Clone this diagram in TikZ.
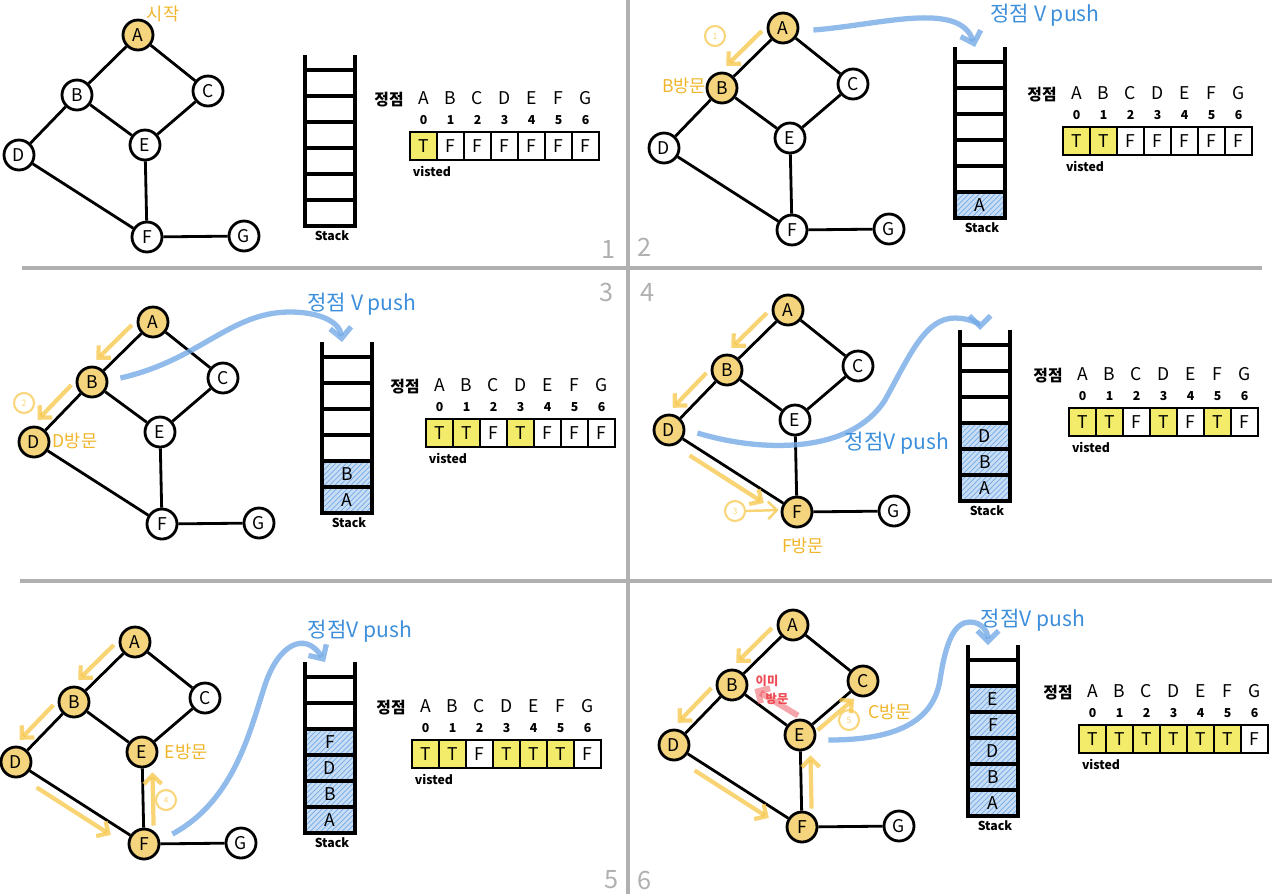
\documentclass[tikz,border=0pt]{standalone}
\usepackage{fontspec}
\setmainfont{Noto Sans CJK KR}
\usetikzlibrary{arrows.meta,positioning,calc,backgrounds,patterns}
\definecolor{nodeFill}{HTML}{F4D47C}
\definecolor{trailOrange}{HTML}{F6C545}
\definecolor{labelOrange}{HTML}{F0B52A}
\definecolor{markYellow}{HTML}{F2EC6A}
\definecolor{pushBlue}{HTML}{74AAE6}
\definecolor{textBlue}{HTML}{3D8FDB}
\definecolor{cellBlue}{HTML}{C9DEF5}
\definecolor{hitRed}{HTML}{EE4B55}
\definecolor{divGray}{HTML}{B0B0B0}
\tikzset{
  vtx/.style={circle, draw=black, line width=1.6pt, minimum size=0.6cm, inner sep=0pt},
  link/.style={line width=1.6pt},
  trail/.style={trailOrange, line width=2.4pt, opacity=.75,
                -{Straight Barb[length=5pt,width=10pt]}},
  pusharr/.style={pushBlue, line width=3pt, opacity=.8,
                  -{Straight Barb[length=6pt,width=12pt]}},
  hitarr/.style={hitRed, line width=3.4pt, opacity=.5,
                 -{Straight Barb[length=5pt,width=10pt]}},
  rail/.style={line width=2pt},
  cell/.style={draw, line width=1.6pt, minimum width=0.54cm, minimum height=0.56cm,
               inner sep=0pt},
  stackcell/.style={minimum width=1cm, minimum height=0.52cm, inner sep=0pt, fill=cellBlue,
                    postaction={pattern=north east lines, pattern color=pushBlue}},
  hdr/.style={font=\normalsize},
  idx/.style={font=\scriptsize\bfseries},
  tag/.style={font=\scriptsize\bfseries},
  note/.style={text=labelOrange, font=\normalsize},
  stepno/.style={circle, draw=trailOrange, text=trailOrange, line width=1.2pt, opacity=.7,
                 minimum size=0.4cm, inner sep=0pt, font=\tiny},
  pushtxt/.style={text=textBlue, font=\large},
  hit/.style={text=hitRed, font=\scriptsize\bfseries},
  pnum/.style={text=divGray, font=\Large},
  divider/.style={divGray, line width=2.4pt},
}
\newcommand{\dfsgraph}[4]{%
  \begin{scope}[shift={(#2,#3)}]
    \node[vtx] (#1A) at (0,0) {A};
    \node[vtx] (#1B) at (-61,60) {B};
    \node[vtx] (#1C) at (70,56) {C};
    \node[vtx] (#1D) at (-119,120) {D};
    \node[vtx] (#1E) at (7,110) {E};
    \node[vtx] (#1F) at (9,202) {F};
    \node[vtx] (#1G) at (106,201) {G};
  \end{scope}
  \foreach \u/\v in {A/B,A/C,B/D,B/E,C/E,D/F,E/F,F/G}
    \draw[link] (#1\u) -- (#1\v);
  \begin{scope}[on background layer]
    \foreach \v in {#4} \fill[nodeFill] (#1\v) circle (0.28cm);
  \end{scope}
}
\newcommand{\trail}[4]{%
  \draw[trail] ($(#1#2)!.2!(#1#3)+(#4)$) -- ($(#1#2)!.78!(#1#3)+(#4)$);
}
\newcommand{\pushed}[4]{%
  \foreach \sv [count=\k] in {#4}
    \node[stackcell] (#1s\sv) at (#2+25,#3+171-26*\k+13) {\sv};
}
\newcommand{\dfsstack}[3]{%
  \foreach \r in {15,41,...,145}
    \draw[rail] (#2,#3+\r) -- (#2+50,#3+\r);
  \draw[rail] (#2,#3) -- (#2,#3+171) -- (#2+50,#3+171) -- (#2+50,#3);
  \node[tag] (#1stk) at (#2+27,#3+181) {Stack};
  \coordinate (#1in) at (#2+20,#3);
}
\newcommand{\visitrow}[4]{%
  \node[font=\small\bfseries] (#1vtx) at (#2-21,#3-32) {정점};
  \foreach \lt [count=\i from 0] in {A,B,C,D,E,F,G} {
    \node[hdr] (#1h\i) at (#2+27*\i+13.5,#3-34) {\lt};
    \node[idx] (#1i\i) at (#2+27*\i+13.5,#3-12) {\i};
  }
  \foreach \val [count=\i from 0] in {#4} {
    \if\val T\def\cellfill{markYellow}\else\def\cellfill{white}\fi
    \node[cell, fill=\cellfill] (#1c\i) at (#2+27*\i+13.5,#3+14) {\val};
  }
  \node[tag] (#1vis) at (#2+22,#3+39) {visted};
}

\begin{document}
\begin{tikzpicture}[x=0.02cm, y=-0.02cm]
  \useasboundingbox (0,0) rectangle (1280,894);
  \draw[divider] (628,0) -- (628,894);
  \draw[divider] (22,268) -- (1262,268);
  \draw[divider] (20,581) -- (1272,581);

  % 1
  \dfsgraph{p1}{138}{35}{A}
  \node[note] (p1lbl) at (163,14) {시작};
  \dfsstack{p1}{305}{55}
  \visitrow{p1}{410}{132}{T,F,F,F,F,F,F}
  \node[pnum] (n1) at (609,249) {1};

  % 2
  \dfsgraph{p2}{783}{28}{A,B}
  \trail{p2}{A}{B}{-9,-9}
  \node[stepno] (p2n) at (715,36) {1};
  \node[note] (p2lbl) at (684,86) {B방문};
  \pushed{p2}{955}{47}{A}
  \dfsstack{p2}{955}{47}
  \visitrow{p2}{1063}{127}{T,T,F,F,F,F,F}
  \draw[pusharr] ($(p2A.east)+(14,2)$) .. controls (880,25) and (960,0) .. (p2in);
  \node[pushtxt] (p2push) at (1045,15) {정점 V push};
  \node[pnum] (n2) at (645,247) {2};

  % 3
  \dfsgraph{p3}{153}{322}{A,B,D}
  \trail{p3}{A}{B}{-9,-9}
  \trail{p3}{B}{D}{-9,-9}
  \node[stepno] (p3n) at (24,403) {2};
  \node[note] (p3lbl) at (75,441) {D방문};
  \pushed{p3}{322}{342}{A,B}
  \dfsstack{p3}{322}{342}
  \visitrow{p3}{426}{419}{T,T,F,T,F,F,F}
  \draw[pusharr] ($(p3B.east)+(12,-4)$) .. controls (200,360) and (230,312) .. (290,312)
    .. controls (320,312) and (340,322) .. (p3in);
  \node[pushtxt] (p3push) at (362,304) {정점 V push};
  \node[pnum] (n3) at (607,292) {3};

  % 4
  \dfsgraph{p4}{788}{310}{A,B,D,F}
  \trail{p4}{A}{B}{-9,-9}
  \trail{p4}{B}{D}{-9,-9}
  \trail{p4}{D}{F}{-5,9}
  \node[stepno] (p4n) at (735,511) {3};
  \draw[trail, line width=1.4pt] (p4n.east) -- ($(p4F.west)+(-2,-2)$);
  \node[note] (p4lbl) at (803,546) {F방문};
  \pushed{p4}{960}{330}{A,B,D}
  \dfsstack{p4}{960}{330}
  \visitrow{p4}{1069}{408}{T,T,F,T,F,T,F}
  \draw[pusharr] ($(p4D.east)+(12,3)$) .. controls (760,452) and (850,455) .. (885,400)
    .. controls (910,355) and (925,318) .. (955,318)
    .. controls (970,318) and (980,325) .. (p4in);
  \node[pushtxt] (p4push) at (897,443) {정점V push};
  \node[pnum] (n4) at (648,292) {4};

  % 5
  \dfsgraph{p5}{135}{642}{A,B,D,F,E}
  \trail{p5}{A}{B}{-9,-9}
  \trail{p5}{B}{D}{-9,-9}
  \trail{p5}{D}{F}{-5,9}
  \trail{p5}{F}{E}{10,0}
  \node[stepno] (p5n) at (166,800) {4};
  \node[note] (p5lbl) at (186,752) {E방문};
  \pushed{p5}{305}{662}{A,B,D,F}
  \dfsstack{p5}{305}{662}
  \visitrow{p5}{412}{740}{T,T,F,T,T,T,F}
  \draw[pusharr] ($(p5F.east)+(12,-10)$) .. controls (235,800) and (250,730) .. (265,685)
    .. controls (278,645) and (305,630) .. (p5in);
  \node[pushtxt] (p5push) at (360,631) {정점V push};
  \node[pnum] (n5) at (612,880) {5};

  % 6
  \dfsgraph{p6}{793}{625}{A,B,C,D,E,F}
  \trail{p6}{A}{B}{-9,-9}
  \trail{p6}{B}{D}{-9,-9}
  \trail{p6}{D}{F}{-5,9}
  \trail{p6}{F}{E}{10,0}
  \trail{p6}{E}{C}{5,6}
  \node[stepno] (p6n) at (849,720) {5};
  \node[note] (p6lbl) at (890,712) {C방문};
  \draw[hitarr] ($(p6E.north)+(-2,-3)$) -- ($(p6B.east)+(6,4)$);
  \node[hit] (p6old1) at (767,681) {이미};
  \node[hit] (p6old2) at (777,699) {방문};
  \pushed{p6}{968}{645}{A,B,D,F,E}
  \dfsstack{p6}{968}{645}
  \visitrow{p6}{1079}{725}{T,T,T,T,T,T,F}
  \draw[pusharr] ($(p6E.east)+(12,5)$) .. controls (880,740) and (932,730) .. (940,680)
    .. controls (946,640) and (955,622) .. (970,622)
    .. controls (982,622) and (988,632) .. (p6in);
  \node[pushtxt] (p6push) at (1033,620) {정점V push};
  \node[pnum] (n6) at (645,880) {6};
\end{tikzpicture}
\end{document}
